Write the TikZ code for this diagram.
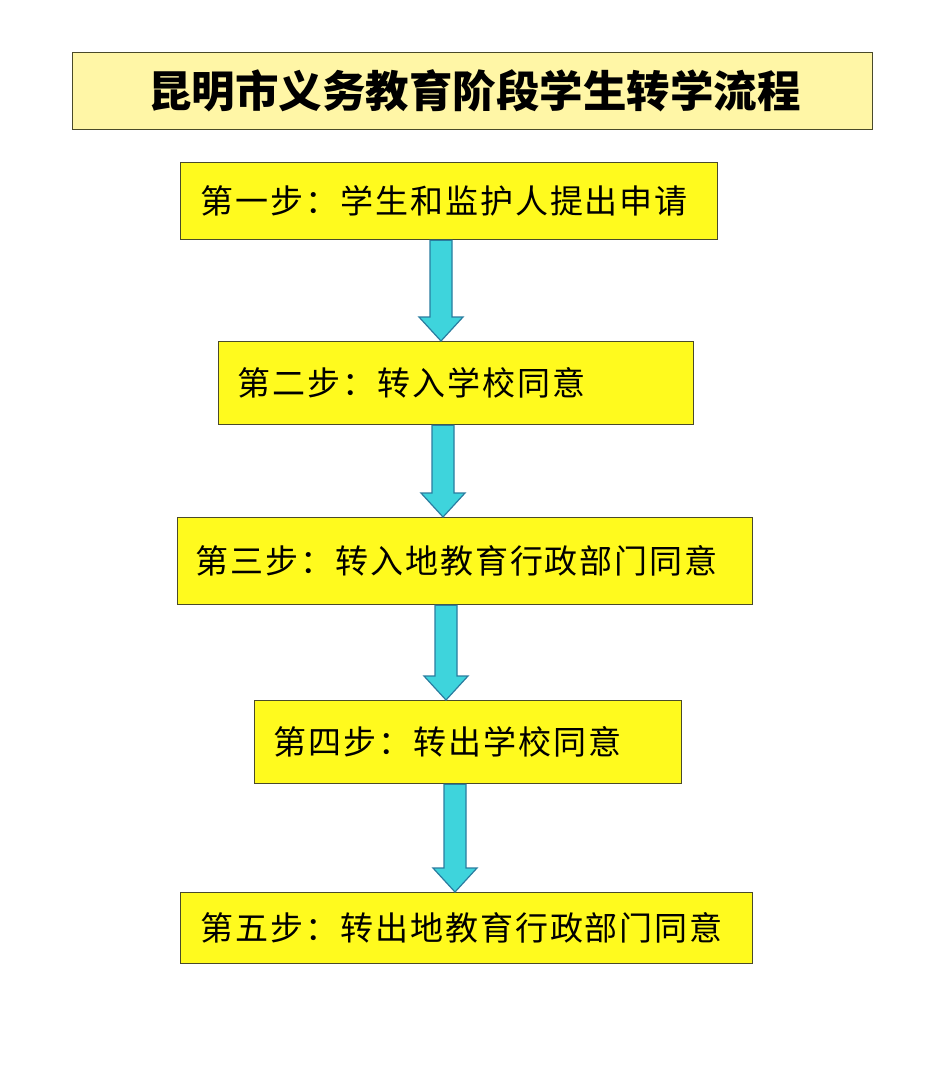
\documentclass[tikz,border=0pt]{standalone}
\usepackage{fontspec}
\newfontfamily\cjk[LetterSpace=6]{Noto Sans CJK SC}
\newfontfamily\cjktitle{Noto Sans CJK SC}
\usetikzlibrary{calc}
\definecolor{titlefill}{HTML}{FFF6A6}
\definecolor{boxfill}{HTML}{FFFA1E}
\definecolor{boxline}{HTML}{4A4A2A}
\definecolor{arrfill}{HTML}{3ED4DC}
\definecolor{arrline}{HTML}{2A7DA0}
\tikzset{
  titlebox/.style={draw=boxline, line width=1.2pt, fill=titlefill, anchor=north west, inner sep=0pt},
  stepbox/.style={draw=boxline, line width=1.2pt, fill=boxfill, anchor=north west, inner sep=0pt},
  steptext/.style={anchor=west, inner sep=0pt, font=\cjk\fontsize{33}{36}\selectfont},
  blockarr/.style={draw=arrline, line width=1.2pt, fill=arrfill, line join=miter}
}
\newcommand{\blockarrow}[2]{%
  \draw[blockarr] let \p1=(#1), \p2=(#2) in
    (\x1-11pt,\y1) -- (\x1-11pt,\y2+24pt) -- (\x1-22pt,\y2+24pt) -- (\x1,\y2)
    -- (\x1+22pt,\y2+24pt) -- (\x1+11pt,\y2+24pt) -- (\x1+11pt,\y1) -- cycle;}
\begin{document}
\begin{tikzpicture}[x=1pt,y=-1pt]
\useasboundingbox[fill=white] (0,0) rectangle (950,1080);
% title
\node[titlebox, minimum width=800pt, minimum height=77pt] (title) at (72,52) {};
\node[inner sep=0pt, font=\cjktitle\bfseries\fontsize{43.5}{46}\selectfont] (titletext) at ($(title.center)+(2,0)$) {昆明市义务教育阶段学生转学流程};
% boxes
\node[stepbox, minimum width=537pt, minimum height=77pt] (b1) at (180,162) {};
\node[steptext] (t1) at ($(b1.west)+(20,0)$) {第一步：学生和监护人提出申请};
\node[stepbox, minimum width=475pt, minimum height=83pt] (b2) at (218,341) {};
\node[steptext] (t2) at ($(b2.west)+(19,0)$) {第二步：转入学校同意};
\node[stepbox, minimum width=575pt, minimum height=87pt] (b3) at (177,517) {};
\node[steptext] (t3) at ($(b3.west)+(18,0)$) {第三步：转入地教育行政部门同意};
\node[stepbox, minimum width=427pt, minimum height=83pt] (b4) at (254,700) {};
\node[steptext] (t4) at ($(b4.west)+(19,0)$) {第四步：转出学校同意};
\node[stepbox, minimum width=572pt, minimum height=71pt] (b5) at (180,892) {};
\node[steptext] (t5) at ($(b5.west)+(20,0)$) {第五步：转出地教育行政部门同意};
% arrow start points
\coordinate (a1) at ($(b1.south west)+(261,0)$);
\coordinate (a2) at ($(b2.south west)+(225,0)$);
\coordinate (a3) at ($(b3.south west)+(269,0)$);
\coordinate (a4) at ($(b4.south west)+(201,0)$);
\blockarrow{a1}{a1 |- b2.north}
\blockarrow{a2}{a2 |- b3.north}
\blockarrow{a3}{a3 |- b4.north}
\blockarrow{a4}{a4 |- b5.north}
\end{tikzpicture}
\end{document}
